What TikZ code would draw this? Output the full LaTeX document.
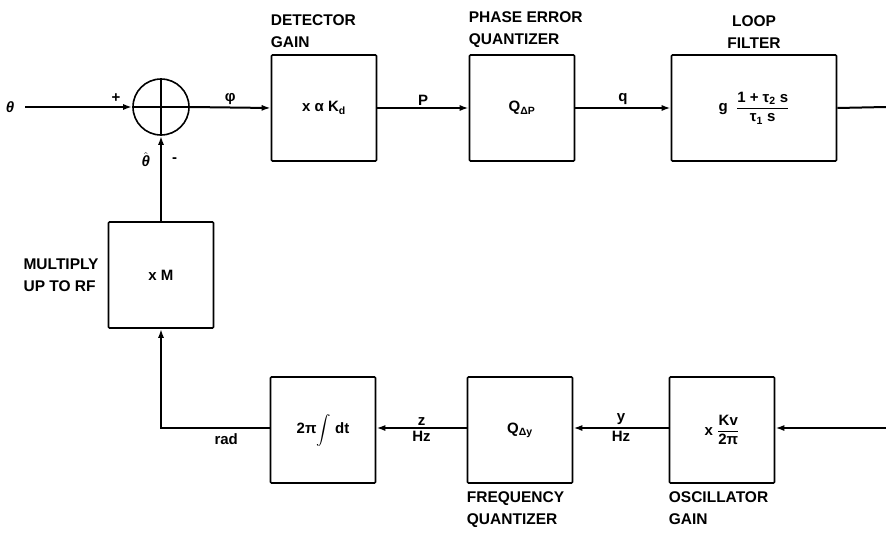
\documentclass[tikz,border=0pt]{standalone}
\usepackage{amsmath}
\usepackage{fontspec}
\setmainfont{Liberation Sans}
\usetikzlibrary{arrows.meta,positioning}

\tikzset{
	blk/.style={draw,line width=1.6pt,rounded corners=1pt,minimum width=105pt,minimum height=106pt,inner sep=0pt},
	sig/.style={line width=2pt,-{Latex[length=9pt,width=6pt]}},
	wire/.style={line width=2pt},
	blkcaption/.style={font=\fontsize{15.5}{22}\selectfont\bfseries,align=left,inner sep=0pt},
	lbl/.style={font=\fontsize{15}{17}\selectfont\bfseries,inner sep=2pt}
}

\begin{document}
\begin{tikzpicture}[x=1pt,y=-1pt,font=\fontsize{15}{18}\selectfont\bfseries]
	\useasboundingbox (0,0) rectangle (886,533);
	% forward path
	\coordinate (in) at (25,107);
	\coordinate (outA) at (886,107);
	\node[lbl] (theta) at (10,107) {\itshape θ};
	\node[draw,circle,line width=1.6pt,minimum size=56pt,inner sep=0pt] (sum) at (161,107) {};
	\draw[wire] (sum.north)--(sum.south);
	\draw[wire] (sum.west)--(sum.east);
	\node[blk] (det) at (324,108) {x α K\textsubscript{d}};
	\node[blk] (peq) at (522,108) {Q\textsubscript{ΔP}};
	\node[blk,minimum width=165pt] (lf) at (754,108) {g\ \ $\dfrac{\text{1 + τ\textsubscript{2} s}}{\text{τ\textsubscript{1} s}}$};
	% feedback path
	\coordinate (outB) at (886,428);
	\node[blk] (mul) at (161,275) {x M};
	\node[blk] (int) at (323,430) {2π$\displaystyle\int$ dt};
	\node[blk] (fq) at (520,430) {Q\textsubscript{Δy}};
	\node[blk] (osc) at (722,430) {x\ $\dfrac{\text{Kv}}{\text{2π}}$};
	% captions
	\node[blkcaption,anchor=south west] at ([yshift=6pt]det.north west) {DETECTOR\\GAIN};
	\node[blkcaption,anchor=south west] at ([yshift=6pt]peq.north west) {PHASE ERROR\\QUANTIZER};
	\node[blkcaption,anchor=south,align=center] at ([yshift=6pt]lf.north) {LOOP\\FILTER};
	\node[blkcaption,anchor=east] at ([xshift=-9pt]mul.west) {MULTIPLY\\UP TO RF};
	\node[blkcaption,anchor=north west] at ([yshift=-8pt]fq.south west) {FREQUENCY\\QUANTIZER};
	\node[blkcaption,anchor=north west] at ([yshift=-8pt]osc.south west) {OSCILLATOR\\GAIN};
	% connectors
	\draw[sig] (in) -- (sum.west) node[lbl,pos=0.85,above=2pt] {+};
	\draw[sig] (sum.east) -- (det.west) node[lbl,midway,above] {φ};
	\draw[sig] (det) -- (peq) node[lbl,midway,above] {P};
	\draw[sig] (peq) -- (lf) node[lbl,midway,above] {q};
	\draw[wire] (lf.east) -- (outA);
	\draw[sig] (outB) -- (osc.east |- outB);
	\draw[sig] (osc.west |- outB) -- (fq.east |- outB) node[lbl,midway,above] {y} node[lbl,midway,below] {Hz};
	\draw[sig] (fq.west |- outB) -- (int.east |- outB) node[lbl,midway,above] {z} node[lbl,midway,below] {Hz};
	\draw[sig] (int.west |- outB) -| (mul.south) node[lbl,pos=0.2,below=3pt] {rad};
	\draw[sig] (mul) -- (sum) node[lbl,pos=0.72,left=8pt] {$\hat{\text{\itshape θ}}$} node[lbl,pos=0.72,right=8pt] {-};
\end{tikzpicture}
\end{document}
